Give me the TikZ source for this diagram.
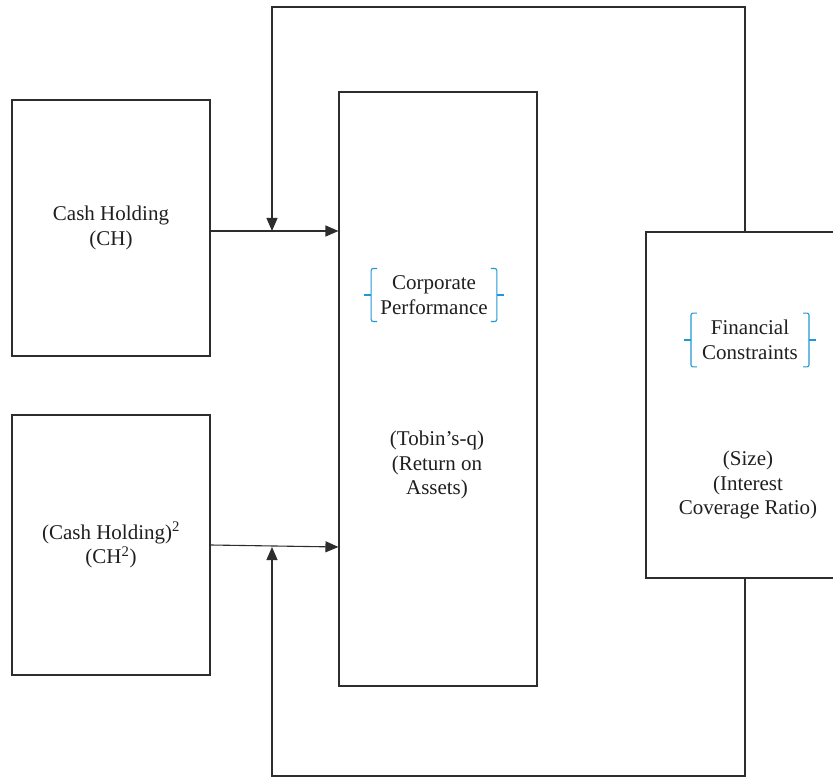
\documentclass[tikz,border=0pt]{standalone}
\usepackage{fontspec}
\setmainfont{Liberation Serif}
\newfontfamily\diagfont{Liberation Serif}
\usetikzlibrary{arrows.meta,calc}
\definecolor{bracketblue}{RGB}{32,152,214}
\definecolor{linegray}{RGB}{45,45,45}
\tikzset{
  box/.style={draw=linegray, line width=1.1pt, minimum width=198pt, inner sep=0pt},
  boxtext/.style={align=center, font=\diagfont\fontsize{21}{24.5}\selectfont, text=black!88},
  headtext/.style={boxtext, inner xsep=9pt, inner ysep=7pt},
  bracket/.style={draw=bracketblue, line width=1.1pt, rounded corners=2pt},
  flowline/.style={draw=linegray, line width=1.1pt,
    -{Stealth[length=13pt, width=11pt, inset=0pt]}}
}
% blue side brackets round a heading node
\newcommand\sidebrackets[1]{%
  \draw[bracket] ([xshift=6pt]#1.north west) -- (#1.north west)
    -- (#1.south west) -- ([xshift=6pt]#1.south west);
  \draw[bracket] (#1.west) -- ++(-7pt,0);
  \draw[bracket] ([xshift=-6pt]#1.north east) -- (#1.north east)
    -- (#1.south east) -- ([xshift=-6pt]#1.south east);
  \draw[bracket] (#1.east) -- ++(7pt,0);
}
\begin{document}
\begin{tikzpicture}[x=1pt, y=-1pt]
  \useasboundingbox (0,0) rectangle (833,778);
  % independent variables
  \node[box, boxtext, minimum height=256pt] (ch) at (111,228)
    {Cash Holding\\(CH)};
  \node[box, boxtext, minimum height=260pt] (chsq) at (111,545)
    {(Cash Holding)\textsuperscript{2}\\(CH\textsuperscript{2})};
  % dependent variable
  \node[box, minimum height=594pt] (cp) at (438,389) {};
  \node[headtext] (cphead) at (434,295) {Corporate\\Performance};
  \sidebrackets{cphead}
  \node[boxtext] (cpvars) at (437,465) {(Tobin’s-q)\\(Return on\\Assets)};
  % moderator (right edge runs off the page)
  \node[box, minimum width=206pt, minimum height=346pt] (fc) at (749,405) {};
  \node[headtext, inner xsep=11pt] (fchead) at (750,340) {Financial\\Constraints};
  \sidebrackets{fchead}
  \node[boxtext] (fcvars) at (748,485) {(Size)\\(Interest\\Coverage Ratio)};
  % joints of the loops
  \coordinate (j1) at (272,231);
  \coordinate (j2) at (272,547);
  \coordinate (t1) at (745,7);
  \coordinate (t2) at (272,7);
  \coordinate (b1) at (745,776);
  \coordinate (b2) at (272,776);
  % direct effects
  \draw[flowline] (ch.east |- j1) -- (cp.west |- j1);
  \draw[flowline] (chsq.east) -- (cp.west |- j2);
  % moderating effects
  \draw[flowline] (t1 |- fc.north) -- (t1) -- (t2) -- (j1);
  \draw[flowline] (b1 |- fc.south) -- (b1) -- (b2) -- (j2);
\end{tikzpicture}
\end{document}
